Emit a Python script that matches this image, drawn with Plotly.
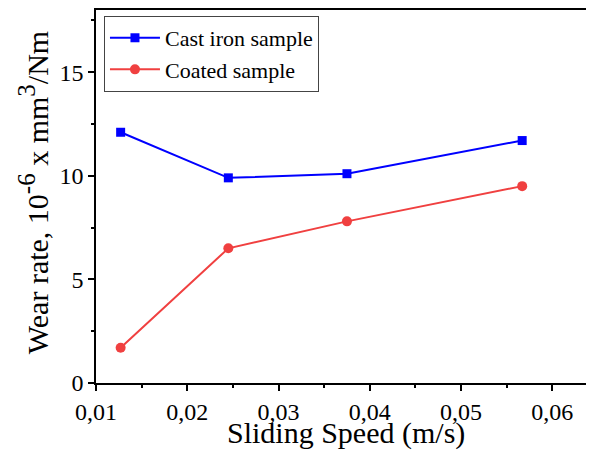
import plotly.graph_objects as go

speed = [0.0127, 0.0245, 0.0375, 0.0567]
cast_iron = [12.1, 9.9, 10.1, 11.7]
coated = [1.7, 6.5, 7.8, 9.5]

x_title = "Sliding Speed (m/s)"
y_title = ("Wear rate, 10<sup><span style=\"font-size:25px\">-6</span></sup> x mm"
           "<sup><span style=\"font-size:25px\">3</span></sup>/Nm")

FONT = "Liberation Serif, Times New Roman, serif"

fig = go.Figure()
fig.add_trace(go.Scatter(x=speed, y=cast_iron, mode="lines+markers", name="Cast iron sample",
                         line=dict(color="#0000ff", width=2),
                         marker=dict(symbol="square", size=9, color="#0000ff")))
fig.add_trace(go.Scatter(x=speed, y=coated, mode="lines+markers", name="Coated sample",
                         line=dict(color="#f04040", width=2),
                         marker=dict(symbol="circle", size=10, color="#f04040")))

fig.update_layout(
    width=586, height=442,
    margin=dict(l=88, r=0, t=2, b=67),
    paper_bgcolor="white", plot_bgcolor="white",
    separators=",.",
    font=dict(family=FONT, size=23, color="black"),
    showlegend=True,
    legend=dict(x=0.016, y=0.984, xanchor="left", yanchor="top",
                bordercolor="#444444", borderwidth=1, bgcolor="white",
                font=dict(family=FONT, size=22), tracegroupgap=0,
                itemwidth=50),
    xaxis=dict(range=[0.01, 0.06457], tick0=0.01, dtick=0.01, tickformat=".2f",
               automargin=False,
               showline=True, linecolor="black", linewidth=1.5, mirror=True,
               ticks="outside", ticklen=6, tickcolor="black", tickwidth=1.5,
               minor=dict(dtick=0.005, ticks="outside", ticklen=3, tickcolor="black", tickwidth=1.5),
               showgrid=False, zeroline=False,
               tickfont=dict(family=FONT, size=24)),
    yaxis=dict(range=[0, 18], tick0=0, dtick=5,
               automargin=False,
               showline=True, linecolor="black", linewidth=1.5,
               ticks="outside", ticklen=6, tickcolor="black", tickwidth=1.5,
               minor=dict(dtick=2.5, ticks="outside", ticklen=3, tickcolor="black", tickwidth=1.5),
               showgrid=False, zeroline=False,
               tickfont=dict(family=FONT, size=24)),
    annotations=[
        dict(text=x_title, xref="paper", yref="paper", x=0.503, y=-0.133,
             xanchor="center", yanchor="middle", showarrow=False,
             font=dict(family=FONT, size=30)),
        dict(text=y_title, xref="paper", yref="paper", x=-0.125, y=0.511,
             xanchor="center", yanchor="middle", showarrow=False, textangle=-90,
             font=dict(family=FONT, size=30)),
    ],
)

fig.write_html("out.html")
